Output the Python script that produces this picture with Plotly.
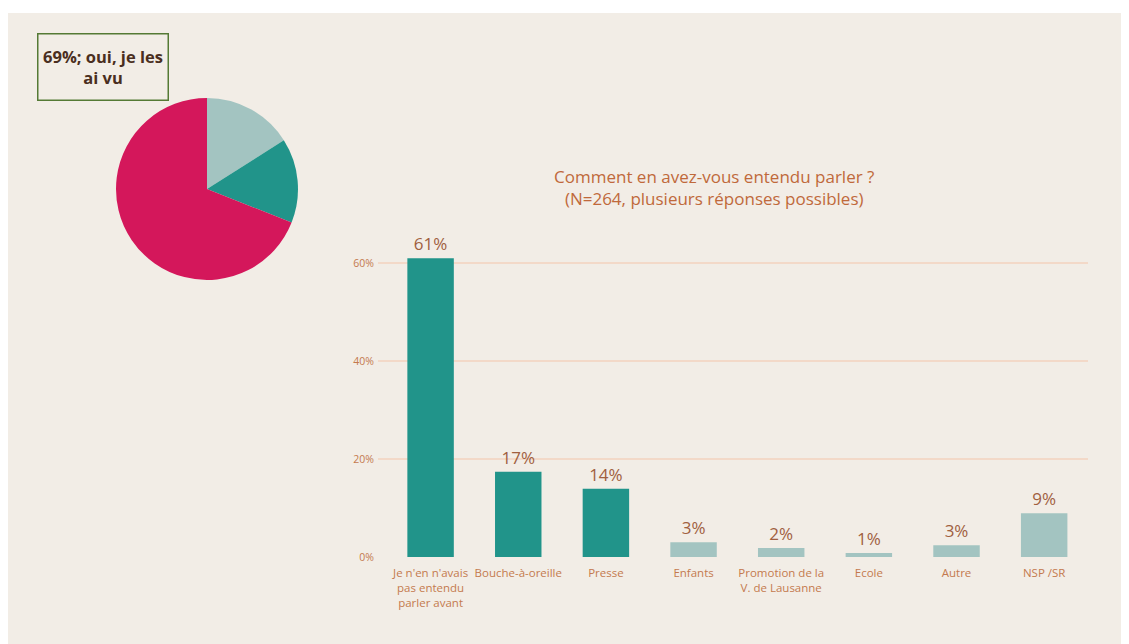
import plotly.graph_objects as go

W, H = 1129, 636
OX, OY = 8, 8  # page body margin offset


def px(x):
    return (x - OX) / W


def py(y):
    return 1 - (y - OY) / H


# Pie data
pie_labels = ["Non", "NSP", "Oui, je les ai vu"]
pie_values = [16, 15, 69]
pie_colors = ["#a3c4c1", "#21948a", "#d4175b"]

# Bar data
categories = ["Je n'en n'avais<br>pas entendu<br>parler avant", "Bouche-à-oreille", "Presse",
              "Enfants", "Promotion de la<br>V. de Lausanne", "Ecole", "Autre", "NSP /SR"]
values = [61.0, 17.4, 13.9, 3.0, 1.8, 0.8, 2.4, 8.9]
value_labels = ["61%", "17%", "14%", "3%", "2%", "1%", "3%", "9%"]
bar_colors = ["#21948a", "#21948a", "#21948a", "#a3c4c1", "#a3c4c1", "#a3c4c1", "#a3c4c1", "#a3c4c1"]
y_ticks = [0, 20, 40, 60]
y_tick_labels = ["0%", "20%", "40%", "60%"]

title_color = "#c0693b"
tick_color = "#c47a4e"
label_color = "#a0603f"
FONT = "Open Sans"

fig = go.Figure()

fig.add_trace(go.Pie(
    labels=pie_labels, values=pie_values, sort=False, direction="clockwise", rotation=0,
    marker=dict(colors=pie_colors, line=dict(width=0)), textinfo="none", hoverinfo="label+percent",
    domain=dict(x=[px(115), px(299)], y=[py(283), py(99)]), showlegend=False,
))

fig.add_trace(go.Bar(
    x=list(range(len(categories))), y=values, text=value_labels, textposition="outside",
    textfont=dict(size=17, color=label_color, family=FONT), cliponaxis=False,
    marker=dict(color=bar_colors, line=dict(width=0)), width=0.53, showlegend=False,
))

fig.update_layout(
    width=W, height=H, margin=dict(l=0, r=0, t=0, b=0),
    paper_bgcolor="#f2ede6", plot_bgcolor="rgba(0,0,0,0)",
    font=dict(family=FONT),
    xaxis=dict(domain=[px(378), px(1088)], range=[-0.6, 7.5],
               tickmode="array", tickvals=list(range(len(categories))), ticktext=categories,
               tickfont=dict(size=11.5, color=tick_color, family=FONT),
               showgrid=False, zeroline=False, showline=False, ticks="", ticklabelstandoff=8),
    yaxis=dict(domain=[py(563), py(216.5)], range=[0, 70],
               tickmode="array", tickvals=y_ticks, ticktext=y_tick_labels,
               tickfont=dict(size=10.5, color=tick_color, family=FONT),
               showgrid=True, gridcolor="#f3d9c8", gridwidth=1.5, zeroline=False,
               showline=False, ticks="", ticklabelstandoff=3),
    shapes=[dict(type="rect", xref="paper", yref="paper", x0=0, x1=1, y0=py(13), y1=1,
                 fillcolor="white", line=dict(width=0), layer="below")],
    annotations=[
        dict(text="Comment en avez-vous entendu parler ?<br>(N=264, plusieurs réponses possibles)",
             xref="paper", yref="paper", x=px(714), y=py(190), xanchor="center", yanchor="middle",
             showarrow=False, font=dict(size=17, color=title_color, family=FONT)),
        dict(text="<b>69%; oui, je les<br>ai vu</b>", xref="paper", yref="paper",
             x=px(103), y=py(68), xanchor="center", yanchor="middle", showarrow=False,
             width=127, height=63, align="center",
             bordercolor="#557a35", borderwidth=1.5, bgcolor="#f2ede6",
             font=dict(size=16.5, color="#4a2e20", family=FONT)),
    ],
)

fig.write_html("out.html")
